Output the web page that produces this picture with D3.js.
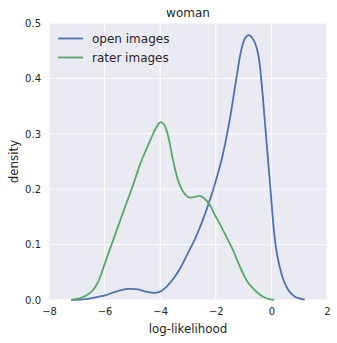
<!DOCTYPE html>
<html><head><meta charset="utf-8">
<script src="https://cdn.jsdelivr.net/npm/d3@7"></script>
<style>body{margin:0;background:#fff}svg{display:block}text{font-family:"DejaVu Sans",sans-serif;fill:#262626}</style>
</head><body>
<script>
const title = "woman";
const xLabel = "log-likelihood";
const yLabel = "density";
const xTicks = [-8, -6, -4, -2, 0, 2];
const yTicks = [0.0, 0.1, 0.2, 0.3, 0.4, 0.5];
const seriesNames = ["open images", "rater images"];
const seriesColors = ["#4C72B0", "#55A868"];

const openX = [-7.2,-6.8,-6.5,-6.2,-5.95,-5.6,-5.15,-4.8,-4.5,-4.2,-4.0,-3.77,-3.5,-3.25,-3.0,-2.75,-2.5,-2.25,-2.0,-1.75,-1.5,-1.26,-1.08,-0.95,-0.81,-0.65,-0.48,-0.35,-0.24,-0.15,-0.06,0.03,0.115,0.22,0.36,0.5,0.65,0.85,1.0,1.2];
const openY = [0.0,0.001,0.003,0.006,0.009,0.015,0.020,0.019,0.015,0.013,0.015,0.024,0.040,0.060,0.085,0.110,0.140,0.175,0.215,0.262,0.325,0.400,0.452,0.472,0.478,0.47,0.445,0.39,0.325,0.27,0.217,0.16,0.114,0.078,0.048,0.028,0.015,0.006,0.003,0.0005];

const raterX = [-7.2,-7.0,-6.8,-6.6,-6.4,-6.25,-6.1,-5.95,-5.75,-5.5,-5.25,-5.0,-4.73,-4.5,-4.3,-4.15,-3.98,-3.85,-3.72,-3.54,-3.35,-3.18,-3.05,-2.94,-2.75,-2.58,-2.45,-2.22,-2.05,-1.86,-1.6,-1.38,-1.2,-1.02,-0.85,-0.66,-0.5,-0.3,-0.1,0.1];
const raterY = [0.0005,0.002,0.005,0.010,0.019,0.031,0.050,0.072,0.100,0.135,0.170,0.204,0.244,0.272,0.295,0.311,0.321,0.316,0.297,0.253,0.215,0.196,0.188,0.185,0.186,0.188,0.185,0.172,0.155,0.138,0.112,0.090,0.068,0.048,0.032,0.021,0.013,0.006,0.002,0.0003];

const W = 337, H = 343;
const m = {left: 49, top: 23, right: 10, bottom: 43};
const svg = d3.select("body").append("svg").attr("width", W).attr("height", H);
const x = d3.scaleLinear().domain([-8, 2]).range([m.left, W - m.right]);
const y = d3.scaleLinear().domain([0, 0.5]).range([H - m.bottom, m.top]);

svg.append("rect").attr("x", x(-8)).attr("y", y(0.5)).attr("width", x(2) - x(-8)).attr("height", y(0) - y(0.5)).attr("fill", "#EAEAF2");

const g = svg.append("g");
g.selectAll(".vg").data(xTicks).enter().append("line")
  .attr("x1", d => x(d)).attr("x2", d => x(d)).attr("y1", y(0)).attr("y2", y(0.5))
  .attr("stroke", "#fff").attr("stroke-width", 1);
g.selectAll(".hg").data(yTicks).enter().append("line")
  .attr("x1", x(-8)).attr("x2", x(2)).attr("y1", d => y(d)).attr("y2", d => y(d))
  .attr("stroke", "#fff").attr("stroke-width", 1);

const xAxis = svg.append("g").attr("transform", `translate(0,${y(0)})`)
  .call(d3.axisBottom(x).tickValues(xTicks).tickSize(0).tickPadding(8).tickFormat(d => d3.format("")(d).replace("-", "\u2212")));
const yAxis = svg.append("g").attr("transform", `translate(${x(-8)},0)`)
  .call(d3.axisLeft(y).tickValues(yTicks).tickSize(0).tickPadding(8).tickFormat(d3.format(".1f")));
[xAxis, yAxis].forEach(a => { a.select(".domain").remove(); a.selectAll("text").attr("font-size", "10px").attr("fill", "#262626").attr("font-family", "DejaVu Sans"); });

const line = d3.line().x(d => x(d[0])).y(d => y(d[1])).curve(d3.curveCatmullRom.alpha(0.5));
const seriesData = [d3.zip(openX, openY), d3.zip(raterX, raterY)];
seriesData.forEach((s, i) => {
  svg.append("path").datum(s).attr("d", line).attr("fill", "none")
    .attr("stroke", seriesColors[i]).attr("stroke-width", 1.8).attr("stroke-linejoin", "round");
});

const lg = svg.append("g");
seriesNames.forEach((n, i) => {
  const yy = 38.5 + i * 19;
  lg.append("line").attr("x1", 58).attr("x2", 83).attr("y1", yy).attr("y2", yy)
    .attr("stroke", seriesColors[i]).attr("stroke-width", 1.8);
  lg.append("text").attr("x", 92).attr("y", yy).attr("dy", "0.35em").attr("font-size", "12px").text(n);
});

svg.append("text").attr("x", (x(-8) + x(2)) / 2).attr("y", 17).attr("text-anchor", "middle").attr("font-size", "12px").text(title);
svg.append("text").attr("x", (x(-8) + x(2)) / 2).attr("y", 333).attr("text-anchor", "middle").attr("font-size", "11.8px").text(xLabel);
svg.append("text").attr("transform", `translate(18,${(y(0) + y(0.5)) / 2}) rotate(-90)`).attr("text-anchor", "middle").attr("font-size", "11.8px").text(yLabel);
</script>
</body></html>
